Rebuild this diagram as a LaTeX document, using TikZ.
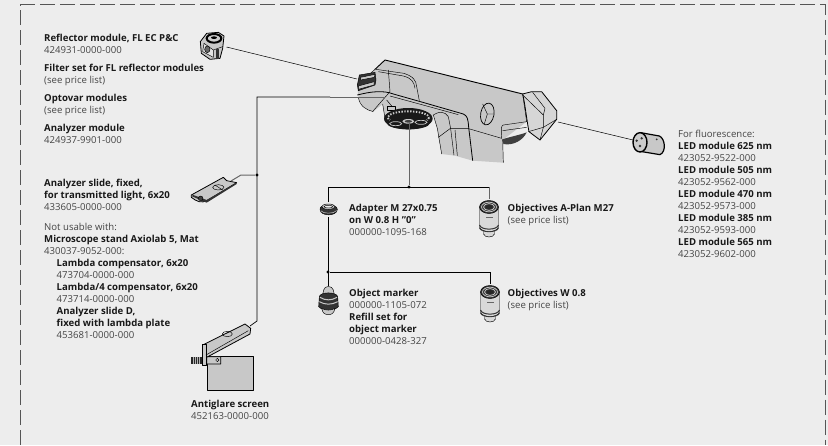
\documentclass[tikz,border=0pt]{standalone}
\usepackage{fontspec}
\setmainfont{Open Sans}
\usetikzlibrary{positioning, calc}

\definecolor{panelgray}{HTML}{EDEDED}
\definecolor{bodygray}{HTML}{C8C8C8}
\definecolor{framegray}{HTML}{555555}
\definecolor{numbergray}{HTML}{444444}
\definecolor{linegray}{HTML}{666666}

\newcommand{\itemname}[1]{{\bfseries\color{black!90}#1}}

\tikzset{
    itemtext/.style={anchor=north west, inner sep=0pt, align=left, text=numbergray,
        font=\fontsize{9.6}{12}\selectfont},
    leader/.style={line width=0.7pt, black},
    greyleader/.style={line width=1pt, linegray},
    junction/.style={circle, fill=black, inner sep=0pt, minimum size=3.4pt},
    outline/.style={line width=0.45pt, black, line join=round},
    objective/.pic={
        % nose
        \draw[outline, fill=bodygray!70!white] (-5.5,10) -- (-5.5,16) .. controls (-4,20) and (4,20) .. (5.5,16) -- (5.5,10);
        % barrel
        \draw[outline, fill=bodygray!70!white] (-9.5,-11) -- (-9.5,9) .. controls (-8,15) and (8,15) .. (9.5,9) -- (9.5,-11);
        \draw[outline, line width=1pt, black!80] (-9.5,7) .. controls (-8,12.5) and (8,12.5) .. (9.5,7);
        \draw[outline, line width=0.8pt, black!80] (-9.5,10) .. controls (-8,15) and (8,15) .. (9.5,10);
        \fill[black!60] (-3.5,-1) rectangle (3.5,0.2);
        % front rings
        \draw[outline, fill=black!80] (0,-11) ellipse (9.5 and 6.5);
        \draw[bodygray, line width=0.7pt] (0,-11) ellipse (7.5 and 4.8);
        \draw[bodygray, line width=0.7pt] (0,-11) ellipse (5.5 and 3.4);
        \fill[black!85] (0,-11) ellipse (3.6 and 2);
    }
}

\begin{document}
\begin{tikzpicture}[x=1pt, y=-1pt]
    \useasboundingbox (0,0) rectangle (828,445);
    \fill[panelgray] (0,0) rectangle (828,445);

    % Frame
    \draw[framegray, line width=0.8pt, dash pattern=on 15pt off 5pt]
        (20.5,445) -- (20.5,4.5) -- (825,4.5) -- (825,445);

    % Microscope part
    \begin{scope}[shift={(330,40)}, scale=1/3]
        \fill[bodygray] (165,60) -- (578,160) -- (590,245) -- (518,300) -- (520,368)
            -- (428,362) -- (375,347) -- (335,342) -- (322,265) -- (310,225) -- (300,235)
            -- (165,235) -- (158,192) -- (130,215)
            .. controls (100,205) and (85,190) .. (83,150) -- (135,88) -- cycle;
        \draw[outline, line width=0.9pt] (135,88) -- (165,60) -- (578,162);
        \draw[outline] (135,88) -- (82,135);
        \draw[outline] (138,88) -- (222,100) .. controls (250,110) and (258,120) .. (260,140) -- (268,182);
        \draw[outline] (145,95) -- (220,108) .. controls (245,115) and (252,125) .. (255,145);
        \draw[outline] (175,90) -- (180,155) -- (130,212);
        \draw[outline, line width=0.8pt] (82,165) .. controls (120,155) and (160,150) .. (190,162)
            -- (268,184) -- (400,222) .. controls (412,228) and (414,235) .. (416,262) -- (428,362);
        \draw[outline] (85,172) .. controls (90,200) and (110,210) .. (130,215);
        \draw[outline] (158,192) -- (165,235);
        \draw[outline] (180,168) -- (268,192) -- (385,224);
        \draw[outline] (310,225) -- (322,265) -- (335,342);
        \draw[outline] (325,292) -- (360,266) -- (416,266) -- (515,295);
        \draw[outline] (310,225) .. controls (330,212) and (345,215) .. (355,230) -- (362,266) -- (372,346);
        \draw[outline] (375,270) -- (382,347);
        \draw[outline] (518,298) -- (520,368);
        \draw[outline] (578,162) -- (590,245) -- (520,255) .. controls (513,258) and (513,265) .. (515,295);
        \draw[outline] (518,272) -- (590,262);
        \fill[black!75] (518,298) .. controls (540,290) and (570,285) .. (590,277)
            .. controls (580,300) and (550,318) .. (520,312) -- cycle;
        % Focus oval
        \draw[outline, line width=0.7pt, rotate around={-10:(472,222)}] (472,222) ellipse (20 and 33);
        \draw[outline] (472,222) -- (458,192) (472,222) -- (491,222) (472,222) -- (463,252);
        % Lamp side
        \draw[outline, line width=0.8pt, fill=bodygray!75!white] (578,162) -- (605,155) -- (635,155)
            -- (680,212) -- (680,238) -- (630,300) -- (597,275) .. controls (590,240) and (585,190) .. cycle;
        \draw[outline] (578,165) -- (640,225) -- (640,262) -- (630,300);
        \draw[outline] (608,157) -- (645,205) -- (640,225);
        \draw[outline] (595,275) -- (640,262);
        \draw[outline] (680,238) -- (640,262);
        % Reflector turret
        \draw[outline, fill=black!80] (82,135) -- (88,105) -- (135,97) -- (138,120) -- (135,135) -- (85,152) -- cycle;
        \draw[outline, fill=bodygray] (92,112) -- (135,103) -- (133,112) -- (92,120) -- cycle;
        \draw[outline, fill=bodygray] (85,138) -- (133,125) -- (132,135) -- (85,148) -- cycle;
        % Nosepiece
        \draw[outline] (170,180) -- (185,198);
        \draw[outline, fill=bodygray] (172,198) rectangle (197,212);
        \fill[black!90] (235,236) ellipse (73 and 32);
        \draw[bodygray, line width=1.9pt, dash pattern=on 1.4pt off 1.5pt] (235,233) ellipse (62 and 19);
        \fill[black!90] (235,250) ellipse (64 and 18);
        \draw[bodygray, line width=0.7pt] (197,251) ellipse (18 and 6) (273,247) ellipse (18 and 6);
        \fill[bodygray] (235,244) ellipse (18 and 7);
        \fill[black!75] (235,244) ellipse (11 and 4);
    \end{scope}

    % Reflector cube
    \begin{scope}[scale=1/3]
        \draw[outline, line width=0.8pt, fill=bodygray] (601,125) -- (620,100) -- (655,97) -- (672,108)
            -- (668,145) -- (660,175) -- (630,178) -- (604,160) -- cycle;
        \draw[outline, fill=white!90!black] (612,130) -- (640,150) -- (640,172) -- (608,155) -- cycle;
        \draw[outline, line width=2pt, fill=black!20] (642,115) ellipse (22 and 13);
        \fill[black] (642,113) ellipse (9 and 4);
        \draw[outline, fill=black!60] (622,148) ellipse (8 and 10);
        \draw[outline] (640,150) -- (668,140);
        \fill[black!80] (648,148) rectangle (656,178);
    \end{scope}
    \coordinate (cubeport) at (226.5,47);
    \coordinate (standleft) at (357,79);
    \draw[leader, line width=0.5pt] (cubeport) -- (standleft);

    % LED module
    \begin{scope}[shift={(600,110)}, scale=1/3]
        \draw[outline, line width=1.2pt, fill=bodygray] (122,68) -- (178,78) .. controls (195,85) and (200,125) .. (180,134)
            -- (120,124) -- cycle;
        \draw[outline, line width=1.4pt, fill=black!20] (120,97) ellipse (21 and 29);
        \fill[black!80] (110,92) circle (4) (125,85) circle (4) (120,108) circle (4);
        \fill[black!80] (170,88) circle (3);
    \end{scope}
    \coordinate (ledport) at (633,140);
    \coordinate (standright) at (558,122);
    \draw[leader, line width=0.5pt] (standright) -- (ledport);

    % Analyzer slide
    \begin{scope}[shift={(30,160)}, scale=1/3]
        \draw[outline, line width=0.8pt, fill=bodygray] (484,105) -- (580,52) -- (590,62) -- (605,65) -- (620,68)
            -- (530,122) .. controls (515,130) and (500,125) .. (484,112) -- cycle;
        \fill[black!80] (484,108) -- (530,128) -- (620,72) -- (620,68) -- (530,120) -- (490,105) -- cycle;
        \draw[outline] (565,82) ellipse (17 and 8);
        \draw[outline] (555,75) -- (578,90);
        \draw[outline, fill=black!75] (512,115) circle (7);
    \end{scope}
    \node[junction] (upperdot) at (257,175) {};
    \coordinate (slideport) at (241,175);
    \coordinate (slidetip) at (231,181);
    \coordinate (standcorner) at (257,97);
    \coordinate (standmid) at (330,97);
    \coordinate (standbody) at (385,97);
    \coordinate (lowbend) at (257,321);
    \coordinate (screenport) at (250,326);
    \draw[greyleader] (upperdot) -- (slideport) -- (slidetip);
    \draw[leader] (standmid) -- (standcorner) -- (lowbend) -- (screenport);
    \draw[greyleader] (standmid) -- (standbody);

    % Antiglare screen
    \begin{scope}[shift={(30,160)}, scale=1/3]
        \draw[outline, line width=0.9pt, fill=bodygray] (533,589) rectangle (669,692);
        \draw[outline, line width=0.8pt, fill=bodygray] (518,555) -- (645,492) -- (662,505) -- (660,522)
            -- (530,592) -- (530,612) -- (572,612) -- (572,590) -- (533,590);
        \draw[outline, fill=bodygray] (518,552) rectangle (528,616);
        \draw[outline] (592,522) ellipse (15 and 8);
        \draw[outline] (528,585) -- (655,512);
        \draw[outline] (562,600) circle (5);
        \fill[black!85] (484,590) rectangle (515,612);
        \draw[white!70!black, line width=0.4pt] (490,590) -- (490,612) (496,590) -- (496,612) (502,590) -- (502,612) (508,590) -- (508,612);
    \end{scope}

    % Branches below the nosepiece
    \node[junction] (nosedot) at (409,187) {};
    \node[junction] (markerdot) at (328,272) {};
    \coordinate (noseport) at (409,122);
    \coordinate (adapterin) at (328,202);
    \coordinate (adapterout) at (328,217);
    \coordinate (markerin) at (328,286);
    \coordinate (leftbend) at (328,187);
    \coordinate (rightbend) at (489,187);
    \coordinate (objectiveA) at (489,199);
    \coordinate (secondbend) at (490,272);
    \coordinate (objectiveW) at (490,284);
    \draw[greyleader] (noseport) -- (nosedot);
    \draw[leader] (adapterin) -- (leftbend) -- (rightbend);
    \draw[greyleader] (rightbend) -- (objectiveA);
    \draw[leader] (adapterout) -- (markerin);
    \draw[leader] (markerdot) -- (secondbend) -- (objectiveW);

    % Adapter
    \begin{scope}[shift={(290,190)}, scale=1/3]
        \draw[outline, fill=black!80] (90,58) .. controls (88,40) and (142,40) .. (142,58)
            .. controls (142,80) and (90,80) .. (90,58) -- cycle;
        \draw[outline, fill=bodygray] (115,50) ellipse (20 and 8);
        \draw[outline, fill=panelgray] (115,50) ellipse (13 and 4);
        \draw[bodygray, line width=0.5pt] (92,62) .. controls (100,72) and (130,72) .. (140,62);
    \end{scope}

    % Object marker
    \begin{scope}[shift={(290,190)}, scale=1/3]
        \draw[outline, fill=bodygray] (101,300) .. controls (103,286) and (127,286) .. (130,300) -- (134,320) -- (97,320) -- cycle;
        \draw[outline, fill=black!80] (88,320) .. controls (90,305) and (140,305) .. (143,320)
            -- (145,350) .. controls (130,365) and (100,365) .. (86,350) -- cycle;
        \draw[bodygray, line width=1pt] (90,322) .. controls (105,332) and (125,332) .. (141,322);
        \draw[bodygray, line width=1pt] (88,335) .. controls (105,345) and (125,345) .. (143,335);
        \draw[outline, fill=bodygray] (95,355) .. controls (105,362) and (125,362) .. (135,355)
            .. controls (132,370) and (125,374) .. (115,374) .. controls (105,374) and (98,370) .. (95,355) -- cycle;
    \end{scope}

    % Objectives
    \pic at (489,218) {objective};
    \pic at (490,303) {objective};

    % Texts left
    \node[itemtext] (reflector) at (44,33.5) {\itemname{Reflector module, FL EC P\&C}\\424931-0000-000};
    \node[itemtext] (filterset) at (44,63.5) {\itemname{Filter set for FL reflector modules}\\(see price list)};
    \node[itemtext] (optovar) at (44,94.5) {\itemname{Optovar modules}\\(see price list)};
    \node[itemtext] (analyzer) at (44,124.5) {\itemname{Analyzer module}\\424937-9901-000};
    \node[itemtext] (slide) at (44,179) {\itemname{Analyzer slide, fixed,}\\\itemname{for transmitted light, 6x20}\\433605-0000-000};
    \node[itemtext] (notusable) at (44,222.7) {Not usable with:\\\itemname{Microscope stand Axiolab 5, Mat}\\430037-9052-000:};
    \node[itemtext] (compensators) at (56.5,258.7) {\itemname{Lambda compensator, 6x20}\\473704-0000-000\\\itemname{Lambda/4 compensator, 6x20}\\473714-0000-000\\\itemname{Analyzer slide D,}\\\itemname{fixed with lambda plate}\\453681-0000-000};
    \node[itemtext] (antiglare) at (191,400) {\itemname{Antiglare screen}\\452163-0000-000};

    % Texts middle
    \node[itemtext] (adapter) at (349,204) {\itemname{Adapter M 27x0.75}\\\itemname{on W 0.8 H "0"}\\000000-1095-168};
    \node[itemtext] (marker) at (349,289.3) {\itemname{Object marker}\\000000-1105-072\\\itemname{Refill set for}\\\itemname{object marker}\\000000-0428-327};
    \node[itemtext] (aplan) at (507.5,204) {\itemname{Objectives A-Plan M27}\\(see price list)};
    \node[itemtext] (wzero) at (507.5,289.3) {\itemname{Objectives W 0.8}\\(see price list)};

    % Texts right
    \node[itemtext] (leds) at (678,130.3) {For fluorescence:\\\itemname{LED module 625 nm}\\423052-9522-000\\\itemname{LED module 505 nm}\\423052-9562-000\\\itemname{LED module 470 nm}\\423052-9573-000\\\itemname{LED module 385 nm}\\423052-9593-000\\\itemname{LED module 565 nm}\\423052-9602-000};
\end{tikzpicture}
\end{document}
